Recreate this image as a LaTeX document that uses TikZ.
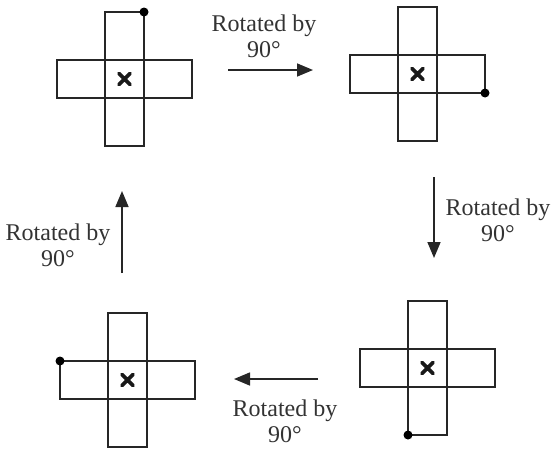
\documentclass[tikz,border=0pt]{standalone}
\usepackage{fontspec}
\setmainfont{Liberation Serif}
\usetikzlibrary{arrows.meta}
\begin{document}
\begin{tikzpicture}[x=1pt,y=-1pt,
  bar/.style={draw=black!85, line width=2pt, inner sep=0pt, outer sep=0pt},
  vbar/.style={bar, minimum width=39pt, minimum height=134pt},
  hbar/.style={bar, minimum width=135pt, minimum height=38pt},
  rot/.style={-{Triangle[length=16pt,width=13pt]}, line width=1.6pt, draw=black!85},
  lbl/.style={align=center, font=\fontsize{24}{26}\selectfont, text=black!80, inner sep=0pt},
  marker/.style={circle, fill=black, inner sep=0pt, minimum size=9pt},
  xmark/.style={line width=3.6pt, line cap=round, draw=black!90}
]
\fill[white] (0,0) rectangle (553,453);
\useasboundingbox (0,0) rectangle (553,453);

% cross 1 (top left)
\coordinate (c1) at (124.5,79);
\node[vbar] (c1v) at (c1) {};
\node[hbar] (c1h) at (c1) {};
\node[marker] (d1) at (c1v.north east) {};
\draw[xmark,shift={(c1)}] (-5.5,-5.5) -- (5.5,5.5) (-5.5,5.5) -- (5.5,-5.5);

% cross 2 (top right)
\coordinate (c2) at (417.5,74);
\node[vbar] (c2v) at (c2) {};
\node[hbar] (c2h) at (c2) {};
\node[marker] (d2) at (c2h.south east) {};
\draw[xmark,shift={(c2)}] (-5.5,-5.5) -- (5.5,5.5) (-5.5,5.5) -- (5.5,-5.5);

% cross 3 (bottom right)
\coordinate (c3) at (427.5,368);
\node[vbar] (c3v) at (c3) {};
\node[hbar] (c3h) at (c3) {};
\node[marker] (d3) at (c3v.south west) {};
\draw[xmark,shift={(c3)}] (-5.5,-5.5) -- (5.5,5.5) (-5.5,5.5) -- (5.5,-5.5);

% cross 4 (bottom left)
\coordinate (c4) at (127.5,380);
\node[vbar] (c4v) at (c4) {};
\node[hbar] (c4h) at (c4) {};
\node[marker] (d4) at (c4h.north west) {};
\draw[xmark,shift={(c4)}] (-5.5,-5.5) -- (5.5,5.5) (-5.5,5.5) -- (5.5,-5.5);

% arrows
\coordinate (a1s) at (228,70);  \coordinate (a1e) at (313,70);
\coordinate (a2s) at (434,177); \coordinate (a2e) at (434,258);
\coordinate (a3s) at (318,379); \coordinate (a3e) at (234,379);
\coordinate (a4s) at (122,273); \coordinate (a4e) at (122,191);
\draw[rot] (a1s) -- (a1e);
\draw[rot] (a2s) -- (a2e);
\draw[rot] (a3s) -- (a3e);
\draw[rot] (a4s) -- (a4e);

% labels
\node[lbl] (t1) at (264,36) {Rotated by\\90°};
\node[lbl] (t2) at (498,220) {Rotated by\\90°};
\node[lbl] (t3) at (58,245) {Rotated by\\90°};
\node[lbl] (t4) at (285,421) {Rotated by\\90°};
\end{tikzpicture}
\end{document}
